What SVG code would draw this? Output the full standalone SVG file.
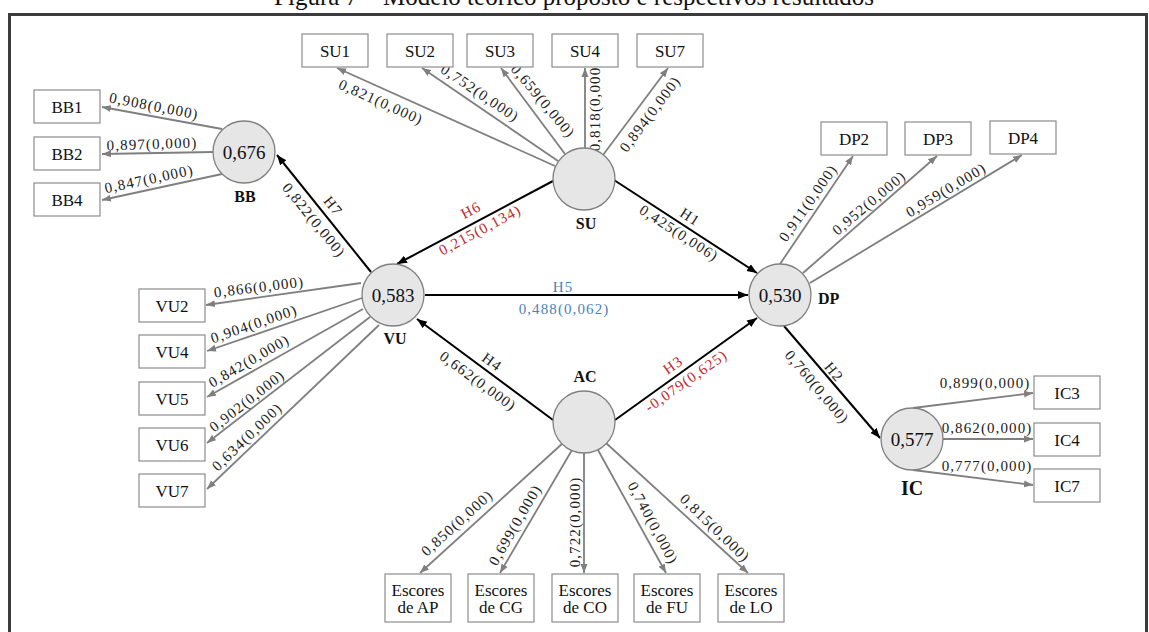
<svg xmlns="http://www.w3.org/2000/svg" width="1149" height="632" viewBox="0 0 1149 632">
<style>
.box{fill:#fff;stroke:#8c8c8c;stroke-width:1.2}
.lv{fill:#e6e6e6;stroke:#808080;stroke-width:1.3}
.ind{stroke:#7f7f7f;stroke-width:1.8;fill:none;marker-end:url(#ag)}
.str{stroke:#000;stroke-width:2;fill:none;marker-end:url(#ab)}
text{font-family:"Liberation Serif","Times New Roman",serif;fill:#111}
.bt{font-size:17px;text-anchor:middle}
.val{font-size:19px;text-anchor:middle}
.nm{font-size:16px;font-weight:bold;text-anchor:middle}
.ld{font-size:15px;letter-spacing:1.1px;text-anchor:middle;fill:#222}
.red{fill:#c0282d}
.blue{fill:#4f7fb8}
</style>
<defs>
<marker id="ag" markerWidth="10" markerHeight="8" refX="9" refY="4" orient="auto" markerUnits="userSpaceOnUse"><path d="M0,0.5 L9,4 L0,7.5 z" fill="#7f7f7f"/></marker>
<marker id="ab" markerWidth="11" markerHeight="9" refX="10" refY="4.5" orient="auto" markerUnits="userSpaceOnUse"><path d="M0,0.5 L10,4.5 L0,8.5 z" fill="#000"/></marker>
</defs>
<rect width="1149" height="632" fill="#fff"/>
<text x="574" y="5" style="font-size:25px;text-anchor:middle">Figura 7 – Modelo teórico proposto e respectivos resultados</text>
<rect x="9.5" y="14.5" width="1137" height="640" fill="none" stroke="#3c3c3c" stroke-width="3"/>

<g id="connectors">
<line class="ind" x1="222" y1="129" x2="102" y2="107"/>
<line class="ind" x1="213" y1="152" x2="102" y2="154"/>
<line class="ind" x1="222" y1="174" x2="102" y2="200"/>
<line class="ind" x1="361" y1="283" x2="206" y2="305"/>
<line class="ind" x1="362" y1="298" x2="207" y2="351"/>
<line class="ind" x1="363" y1="309" x2="207" y2="397"/>
<line class="ind" x1="370" y1="317" x2="207" y2="443"/>
<line class="ind" x1="379" y1="325" x2="207" y2="489"/>
<line class="ind" x1="555" y1="166" x2="337" y2="68"/>
<line class="ind" x1="558" y1="161" x2="422" y2="68"/>
<line class="ind" x1="565" y1="154" x2="501" y2="68"/>
<line class="ind" x1="585" y1="148" x2="585" y2="68"/>
<line class="ind" x1="603" y1="155" x2="668" y2="68"/>
<line class="ind" x1="780" y1="264" x2="853" y2="156"/>
<line class="ind" x1="803" y1="273" x2="937" y2="156"/>
<line class="ind" x1="810" y1="283" x2="1022" y2="155"/>
<line class="ind" x1="913" y1="408" x2="1033" y2="393"/>
<line class="ind" x1="943" y1="439" x2="1033" y2="439"/>
<line class="ind" x1="913" y1="470" x2="1033" y2="485"/>
<line class="ind" x1="563" y1="443" x2="420" y2="573"/>
<line class="ind" x1="572" y1="450" x2="500" y2="573"/>
<line class="ind" x1="584" y1="453" x2="584" y2="573"/>
<line class="ind" x1="598" y1="450" x2="666" y2="573"/>
<line class="ind" x1="606" y1="443" x2="748" y2="573"/>
<line class="str" x1="371" y1="272" x2="277" y2="155"/>
<line class="str" x1="553" y1="181" x2="397" y2="264"/>
<line class="str" x1="614" y1="180" x2="757" y2="273"/>
<line class="str" x1="425" y1="295" x2="748" y2="295"/>
<line class="str" x1="553" y1="420" x2="417" y2="319"/>
<line class="str" x1="615" y1="420" x2="757" y2="318"/>
<line class="str" x1="784" y1="326" x2="880" y2="438"/>

<text class="ld" transform="translate(154,106) rotate(11)" y="5">0,908(0,000)</text>
<text class="ld" transform="translate(152,144) rotate(-2)" y="5">0,897(0,000)</text>
<text class="ld" transform="translate(149,179) rotate(-12)" y="5">0,847(0,000)</text>
<text class="ld" transform="translate(259,287) rotate(-7)" y="5">0,866(0,000)</text>
<text class="ld" transform="translate(254,324) rotate(-19)" y="5">0,904(0,000)</text>
<text class="ld" transform="translate(249,361) rotate(-30)" y="5">0,842(0,000)</text>
<text class="ld" transform="translate(247,401) rotate(-38)" y="5">0,902(0,000)</text>
<text class="ld" transform="translate(247,437) rotate(-44)" y="5">0,634(0,000)</text>
<text class="ld" transform="translate(381,102) rotate(24)" y="5">0,821(0,000)</text>
<text class="ld" transform="translate(480,93) rotate(34)" y="5">0,752(0,000)</text>
<text class="ld" transform="translate(543,101) rotate(50)" y="5">0,659(0,000)</text>
<text class="ld" transform="translate(595,106) rotate(-90)" y="5">0,818(0,000)</text>
<text class="ld" transform="translate(650,114) rotate(-53)" y="5">0,894(0,000)</text>
<text class="ld" transform="translate(808,203) rotate(-55)" y="5">0,911(0,000)</text>
<text class="ld" transform="translate(869,203) rotate(-40)" y="5">0,952(0,000)</text>
<text class="ld" transform="translate(946,190) rotate(-31)" y="5">0,959(0,000)</text>
<text class="ld" transform="translate(985,383)" y="5">0,899(0,000)</text>
<text class="ld" transform="translate(987,428)" y="5">0,862(0,000)</text>
<text class="ld" transform="translate(987,466)" y="5">0,777(0,000)</text>
<text class="ld" transform="translate(457,523) rotate(-42)" y="5">0,850(0,000)</text>
<text class="ld" transform="translate(515,525) rotate(-60)" y="5">0,699(0,000)</text>
<text class="ld" transform="translate(575,522) rotate(-90)" y="5">0,722(0,000)</text>
<text class="ld" transform="translate(653,523) rotate(62)" y="5">0,740(0,000)</text>
<text class="ld" transform="translate(715,528) rotate(44)" y="5">0,815(0,000)</text>

<text class="ld" transform="translate(333,206) rotate(51)" y="5">H7</text>
<text class="ld" transform="translate(314,220) rotate(51)" y="5">0,822(0,000)</text>
<text class="ld red" transform="translate(471,210) rotate(-28)" y="5">H6</text>
<text class="ld red" transform="translate(480,230) rotate(-28)" y="5">0,215(0,134)</text>
<text class="ld" transform="translate(690,217) rotate(33)" y="5">H1</text>
<text class="ld" transform="translate(679,233) rotate(33)" y="5">0,425(0,006)</text>
<text class="ld blue" x="563" y="292">H5</text>
<text class="ld blue" x="564" y="314">0,488(0,062)</text>
<text class="ld" transform="translate(492,362) rotate(36)" y="5">H4</text>
<text class="ld" transform="translate(478,381) rotate(36)" y="5">0,662(0,000)</text>
<text class="ld red" transform="translate(673,365) rotate(-35)" y="5">H3</text>
<text class="ld red" transform="translate(686,381) rotate(-35)" y="5">-0,079(0,625)</text>
<text class="ld" transform="translate(834,372) rotate(50)" y="5">H2</text>
<text class="ld" transform="translate(817,387) rotate(50)" y="5">0,760(0,000)</text>
</g>

<g id="BB"><circle class="lv" cx="244" cy="152" r="31"/><text class="val" x="244" y="158.5">0,676</text><text class="nm" x="245" y="202">BB</text></g>
<g id="VU"><circle class="lv" cx="393" cy="295" r="31"/><text class="val" x="393" y="301.5">0,583</text><text class="nm" x="395" y="344">VU</text></g>
<g id="SU"><circle class="lv" cx="584" cy="179" r="31"/><text class="nm" x="586" y="229">SU</text></g>
<g id="DP"><circle class="lv" cx="780" cy="295" r="31"/><text class="val" x="780" y="301.5">0,530</text><text class="nm" x="818" y="304" style="text-anchor:start">DP</text></g>
<g id="AC"><circle class="lv" cx="584" cy="422" r="31"/><text class="nm" x="585" y="382">AC</text></g>
<g id="IC"><circle class="lv" cx="912" cy="439" r="31"/><text class="val" x="912" y="445.5">0,577</text><text class="nm" x="912" y="495" style="font-size:20px">IC</text></g>

<g id="BB1"><rect class="box" x="34" y="90" width="66" height="33"/><text class="bt" x="67" y="112.5">BB1</text></g>
<g id="BB2"><rect class="box" x="34" y="137" width="66" height="33"/><text class="bt" x="67" y="159.5">BB2</text></g>
<g id="BB4"><rect class="box" x="34" y="183" width="66" height="33"/><text class="bt" x="67" y="205.5">BB4</text></g>
<g id="VU2"><rect class="box" x="139" y="289" width="66" height="33"/><text class="bt" x="172" y="311.5">VU2</text></g>
<g id="VU4"><rect class="box" x="139" y="335" width="66" height="33"/><text class="bt" x="172" y="357.5">VU4</text></g>
<g id="VU5"><rect class="box" x="139" y="382" width="66" height="33"/><text class="bt" x="172" y="404.5">VU5</text></g>
<g id="VU6"><rect class="box" x="139" y="428" width="66" height="33"/><text class="bt" x="172" y="450.5">VU6</text></g>
<g id="VU7"><rect class="box" x="139" y="474" width="66" height="33"/><text class="bt" x="172" y="496.5">VU7</text></g>
<g id="SU1"><rect class="box" x="302" y="34" width="66" height="33"/><text class="bt" x="335" y="56.5">SU1</text></g>
<g id="SU2"><rect class="box" x="387" y="34" width="66" height="33"/><text class="bt" x="420" y="56.5">SU2</text></g>
<g id="SU3"><rect class="box" x="467" y="34" width="66" height="33"/><text class="bt" x="500" y="56.5">SU3</text></g>
<g id="SU4"><rect class="box" x="552" y="34" width="66" height="33"/><text class="bt" x="585" y="56.5">SU4</text></g>
<g id="SU7"><rect class="box" x="637" y="34" width="66" height="33"/><text class="bt" x="670" y="56.5">SU7</text></g>
<g id="DP2"><rect class="box" x="821" y="122" width="66" height="33"/><text class="bt" x="854" y="144.5">DP2</text></g>
<g id="DP3"><rect class="box" x="905" y="122" width="66" height="33"/><text class="bt" x="938" y="144.5">DP3</text></g>
<g id="DP4"><rect class="box" x="990" y="121" width="66" height="33"/><text class="bt" x="1023" y="143.5">DP4</text></g>
<g id="IC3"><rect class="box" x="1034" y="376" width="66" height="33"/><text class="bt" x="1067" y="398.5">IC3</text></g>
<g id="IC4"><rect class="box" x="1034" y="423" width="66" height="33"/><text class="bt" x="1067" y="445.5">IC4</text></g>
<g id="IC7"><rect class="box" x="1034" y="469" width="66" height="33"/><text class="bt" x="1067" y="491.5">IC7</text></g>
<g id="EAP"><rect class="box" x="385" y="574" width="66" height="48"/><text class="bt" x="418" y="596">Escores</text><text class="bt" x="418" y="613">de AP</text></g>
<g id="ECG"><rect class="box" x="468" y="574" width="66" height="48"/><text class="bt" x="501" y="596">Escores</text><text class="bt" x="501" y="613">de CG</text></g>
<g id="ECO"><rect class="box" x="552" y="574" width="66" height="48"/><text class="bt" x="585" y="596">Escores</text><text class="bt" x="585" y="613">de CO</text></g>
<g id="EFU"><rect class="box" x="634" y="574" width="66" height="48"/><text class="bt" x="667" y="596">Escores</text><text class="bt" x="667" y="613">de FU</text></g>
<g id="ELO"><rect class="box" x="718" y="574" width="66" height="48"/><text class="bt" x="751" y="596">Escores</text><text class="bt" x="751" y="613">de LO</text></g>
</svg>
